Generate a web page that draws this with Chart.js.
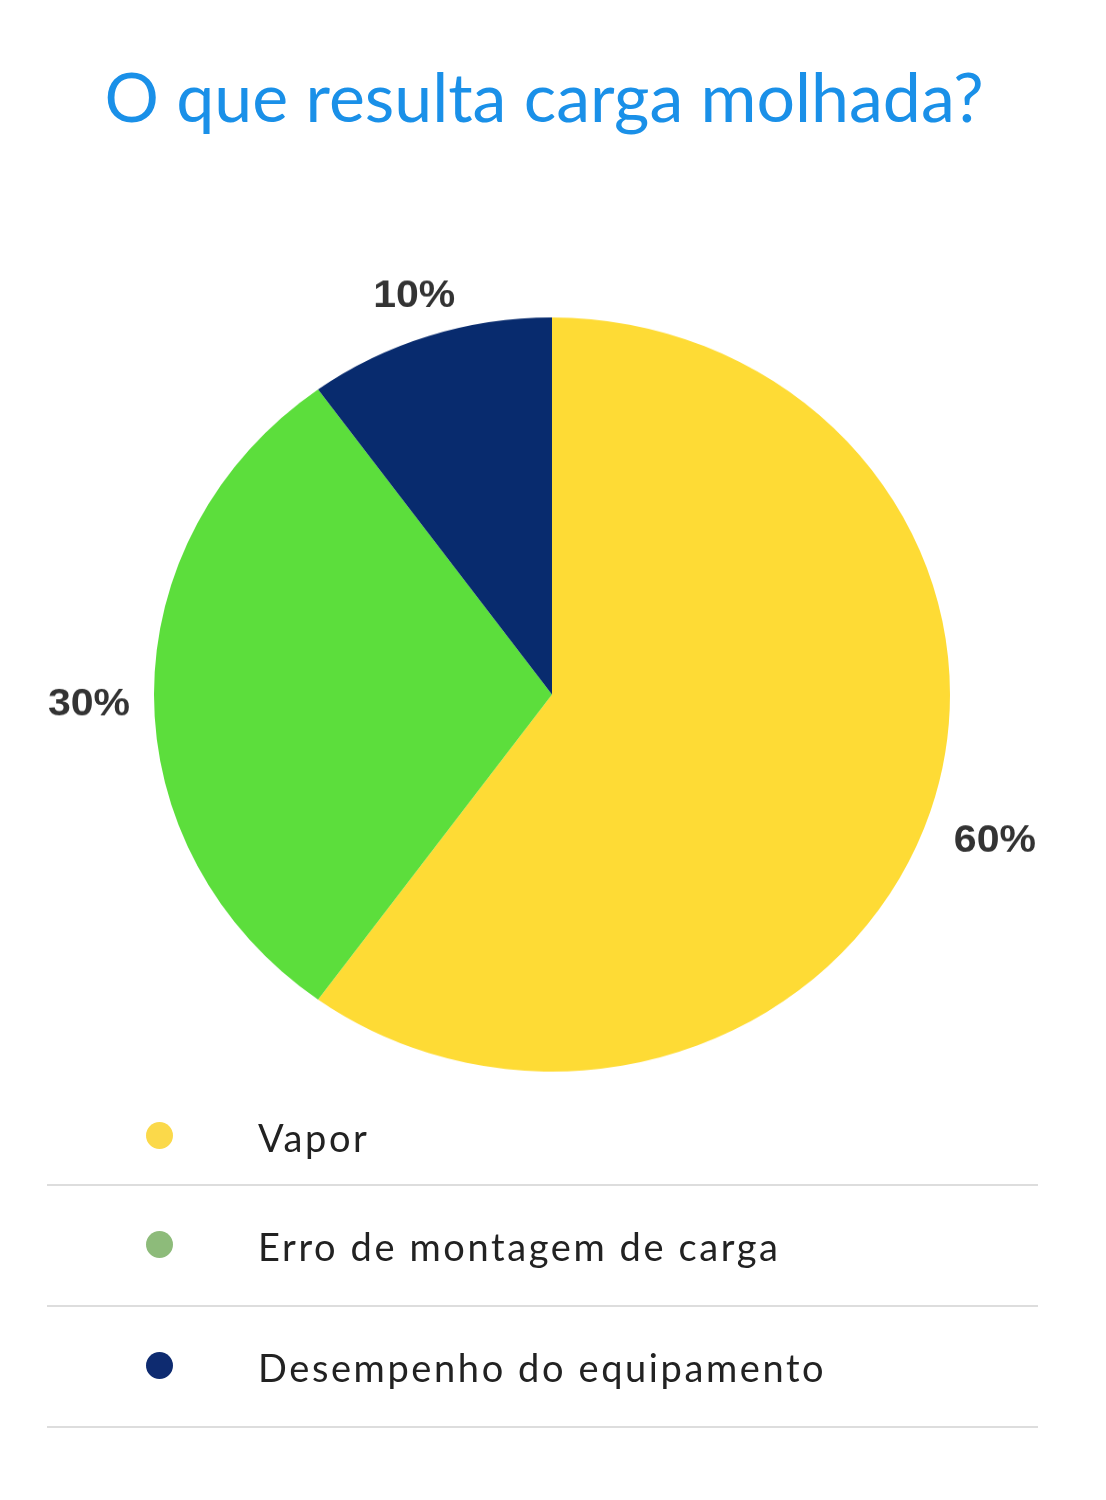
<!DOCTYPE html>
<html>
<head>
<meta charset="utf-8">
<script src="https://cdn.jsdelivr.net/npm/chart.js@4/dist/chart.umd.min.js"></script>
<style>
  body { margin: 0; background: #fff; width: 1106px; height: 1500px; position: relative; overflow: hidden; }
  #title {
    position: absolute; left: -9px; top: 55px; width: 1106px; text-align: center;
    font-family: Lato, sans-serif; font-size: 68px; color: #1a90e8; white-space: nowrap;
  }
  #wrap { position: absolute; left: 0; top: 0; width: 1106px; height: 1100px; }
  #pie { display: block; }
  #legend { position: absolute; left: 47px; top: 1089px; width: 991px; }
  .row { position: relative; border-bottom: 2px solid #dddddd; height: 119px; }
  .row:first-child { height: 95px; }
  .dot { position: absolute; left: 99px; top: 50%; width: 27px; height: 27px; margin-top: -15px; border-radius: 50%; }
  .txt {
    position: absolute; left: 211px; top: 50%; transform: translateY(-50%);
    font-family: Lato, sans-serif; font-size: 38px; letter-spacing: 2.6px; color: #222;
  }
</style>
</head>
<body>
<div id="title">O que resulta carga molhada?</div>
<div id="wrap"><canvas id="pie" width="1106" height="1161" style="width:1106px;height:1100px"></canvas></div>
<div id="legend"></div>
<script>
const categories = ['Vapor', 'Erro de montagem de carga', 'Desempenho do equipamento']
const shares = [60, 30, 10]
const sliceColors = ['#fedb35', '#5cde3c', '#082b6e']
const legendColors = ['#fbd94a', '#8dbb7a', '#0e2b70']

// percent labels just outside each slice
const outsideLabels = {
  id: 'outsideLabels',
  afterDatasetsDraw(chart) {
    const ctx = chart.ctx
    const meta = chart.getDatasetMeta(0)
    const total = shares.reduce((a, b) => a + b, 0)
    ctx.save()
    ctx.font = 'bold 41px "Liberation Sans", Arial, sans-serif'
    ctx.fillStyle = '#333'
    ctx.textAlign = 'center'
    ctx.textBaseline = 'middle'
    meta.data.forEach((arc, i) => {
      const p = arc.getProps(['x', 'y', 'startAngle', 'endAngle', 'outerRadius'], true)
      const mid = (p.startAngle + p.endAngle) / 2
      const ux = Math.cos(mid), uy = Math.sin(mid)
      const text = Math.round(shares[i] / total * 100) + '%'
      const w = ctx.measureText(text).width
      const h = 32
      const r = p.outerRadius + 18 + Math.abs(ux) * (w / 2 + 6) + Math.abs(uy) * h / 2
      ctx.fillText(text, p.x + ux * r, p.y + uy * r + Math.abs(ux) * 11)
    })
    ctx.restore()
  }
}

new Chart(document.getElementById('pie'), {
  type: 'pie',
  data: {
    labels: categories,
    datasets: [{
      data: shares,
      backgroundColor: sliceColors,
      borderWidth: 0
    }]
  },
  options: {
    responsive: false,
    devicePixelRatio: 1,
    animation: false,
    layout: { padding: { left: 154, right: 156, top: 335, bottom: 30 } },
    plugins: {
      legend: { display: false },
      tooltip: { enabled: false }
    }
  },
  plugins: [outsideLabels]
})

const legend = document.getElementById('legend')
categories.forEach((name, i) => {
  const row = document.createElement('div')
  row.className = 'row'
  row.innerHTML = '<span class="dot" style="background:' + legendColors[i] + '"></span><span class="txt">' + name + '</span>'
  legend.appendChild(row)
})
</script>
</body>
</html>
